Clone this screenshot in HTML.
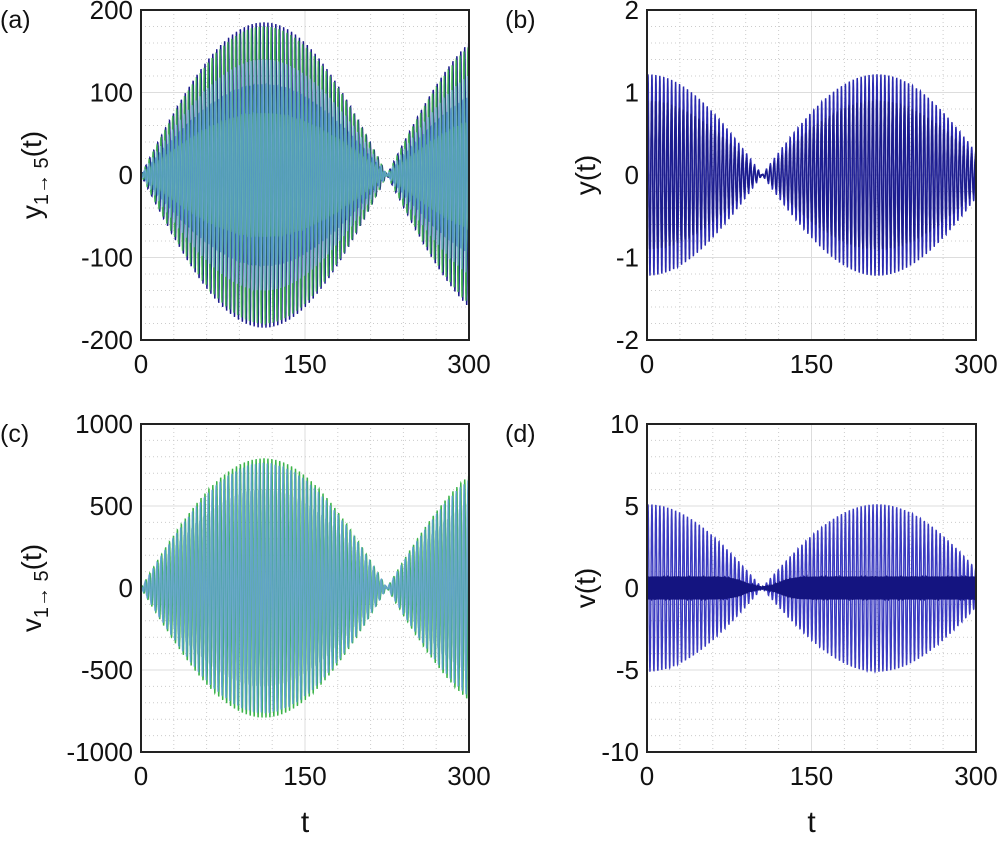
<!DOCTYPE html>
<html><head><meta charset="utf-8"><style>
body{margin:0;background:#fff;width:1000px;height:838px;overflow:hidden;font-family:"Liberation Sans",Arial,sans-serif}
svg text{font-family:"Liberation Sans",Arial,sans-serif;fill:#111}
</style></head><body>
<svg id="s" width="1000" height="838" xmlns="http://www.w3.org/2000/svg"></svg>
<script>
const S=document.getElementById('s');let h='';
function panel(o){
 const {x0,y0,x1,y1,ymin,ymax,ymaj,ymin2,lab}=o;
 const X=t=>x0+(x1-x0)*t/300, Y=v=>y1-(y1-y0)*(v-ymin)/(ymax-ymin);
 for(let t=30;t<300;t+=30){h+=`<line x1="${X(t)}" y1="${y0}" x2="${X(t)}" y2="${y1}" stroke="${t%150?'#ccc':'#ddd'}" stroke-width="1" ${t%150?'stroke-dasharray="1,3"':''}/>`;}
 for(let v=ymin+ymin2;v<ymax;v+=ymin2){const maj=Math.abs(v/ymaj-Math.round(v/ymaj))<1e-6;h+=`<line x1="${x0}" y1="${Y(v)}" x2="${x1}" y2="${Y(v)}" stroke="${maj?'#ddd':'#ccc'}" stroke-width="1" ${maj?'':'stroke-dasharray="1,3"'}/>`;}
 o.series.forEach(s=>{let p=[];for(let i=0;i<=6000;i++){const t=i*300/6000;p.push(X(t).toFixed(1)+','+Y(s.f(t)).toFixed(1));}
  h+=`<polyline points="${p.join(' ')}" fill="none" stroke="${s.c}" stroke-width="${s.w||1.4}" opacity="${s.o||1}"/>`;});
 h+=`<rect x="${x0}" y="${y0}" width="${x1-x0}" height="${y1-y0}" fill="none" stroke="#222" stroke-width="2"/>`;
 [0,150,300].forEach(t=>h+=`<text x="${X(t)}" y="${y1+33}" font-size="26" text-anchor="middle">${t}</text>`);
 for(let v=ymin;v<=ymax;v+=ymaj)h+=`<text x="${x0-8}" y="${Y(v)+9}" font-size="26" text-anchor="end">${v}</text>`;
 h+=`<text x="${x0-o.tx}" y="${y0+18}" font-size="25">${o.tag}</text>`;
 h+=`<g transform="translate(${x0-o.lx},${(y0+y1)/2}) rotate(-90)">${lab}</g>`;
 if(o.tl)h+=`<text x="${(x0+x1)/2}" y="${y1+80}" font-size="30" text-anchor="middle">t</text>`;
}
const P=2*Math.PI/3.6;
const ea=t=>Math.abs(Math.sin(Math.PI*t/225)), eb=t=>Math.abs(Math.cos(Math.PI*t/210));
panel({x0:141,y0:10,x1:469,y1:340,ymin:-200,ymax:200,ymaj:100,ymin2:20,tag:'(a)',tx:141,lx:100,
 lab:'<text x="0" y="0" font-size="28" text-anchor="middle">y<tspan font-size="20" dy="7">1→ 5</tspan><tspan dy="-7">(t)</tspan></text>',
 series:[{f:t=>185*ea(t)*Math.sin(P*t),c:'#1c1c8c'},{f:t=>180*ea(t)*Math.sin(P*t+1.2),c:'#3cb44a',o:.85},{f:t=>140*ea(t)*Math.sin(P*t+2),c:'#7fb3dc',o:.85},{f:t=>110*ea(t)*Math.sin(P*t+3),c:'#4a90c8',o:.8},{f:t=>75*ea(t)*Math.sin(P*t+4),c:'#5aa6b0',o:.8}]});
panel({x0:647,y0:10,x1:976,y1:340,ymin:-2,ymax:2,ymaj:1,ymin2:0.2,tag:'(b)',tx:142,lx:52,
 lab:'<text x="0" y="0" font-size="28" text-anchor="middle">y(t)</text>',
 series:[{f:t=>1.22*eb(t)*Math.sin(P*t),c:'#2a2ab0'},{f:t=>0.9*eb(t)*Math.sin(P*t+0.5),c:'#1c1c8c'}]});
panel({x0:141,y0:424,x1:469,y1:752,ymin:-1000,ymax:1000,ymaj:500,ymin2:100,tag:'(c)',tl:1,tx:141,lx:100,
 lab:'<text x="0" y="0" font-size="28" text-anchor="middle">v<tspan font-size="20" dy="7">1→ 5</tspan><tspan dy="-7">(t)</tspan></text>',
 series:[{f:t=>790*ea(t)*Math.sin(P*t),c:'#3cb44a'},{f:t=>760*ea(t)*Math.sin(P*t+1),c:'#5a9fd0',o:.9},{f:t=>600*ea(t)*Math.sin(P*t+2),c:'#6aa8c8',o:.8}]});
panel({x0:647,y0:424,x1:976,y1:752,ymin:-10,ymax:10,ymaj:5,ymin2:1,tag:'(d)',tl:1,tx:142,lx:52,
 lab:'<text x="0" y="0" font-size="28" text-anchor="middle">v(t)</text>',
 series:[{f:t=>5.1*eb(t)*Math.sin(P*t),c:'#3a3ac0'},{f:t=>(0.7*(1-0.9*Math.exp(-Math.pow((t-105)/20,2))))*Math.sin(P*4.3*t),c:'#141480',w:1.5}]});
S.innerHTML=h;
</script>
</body></html>
